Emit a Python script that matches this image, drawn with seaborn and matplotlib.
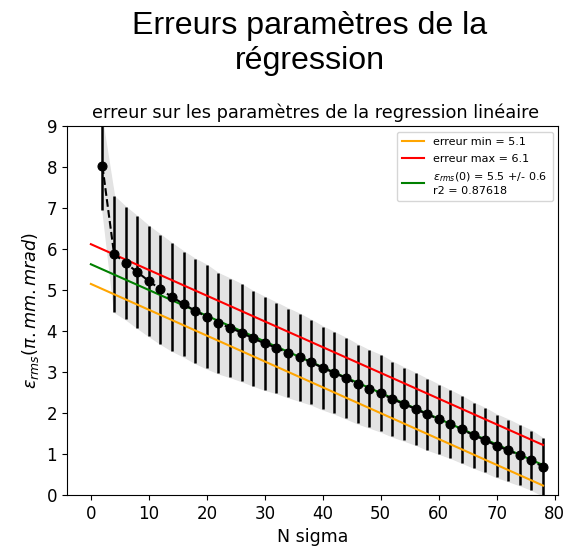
import matplotlib
matplotlib.use("Agg")
import matplotlib.pyplot as plt
import seaborn as sns
import numpy as np
import pandas as pd

n_sigma = [2, 4, 6, 8, 10, 12, 14, 16, 18, 20, 22, 24, 26, 28, 30, 32, 34, 36, 38,
           40, 42, 44, 46, 48, 50, 52, 54, 56, 58, 60, 62, 64, 66, 68, 70, 72, 74, 76, 78]
eps_rms = [8.02, 5.88, 5.66, 5.44, 5.22, 5.02, 4.83, 4.66, 4.49, 4.35, 4.19, 4.08, 3.96,
           3.82, 3.70, 3.59, 3.47, 3.36, 3.24, 3.10, 2.98, 2.85, 2.71, 2.59, 2.48, 2.34,
           2.22, 2.10, 1.97, 1.85, 1.73, 1.60, 1.46, 1.34, 1.20, 1.09, 0.97, 0.85, 0.68]
eps_err = [1.07, 1.41, 1.37, 1.36, 1.34, 1.33, 1.31, 1.28, 1.27, 1.26, 1.22, 1.20, 1.18,
           1.15, 1.13, 1.10, 1.08, 1.06, 1.03, 1.01, 0.99, 0.98, 0.96, 0.94, 0.93, 0.91,
           0.89, 0.87, 0.86, 0.84, 0.82, 0.81, 0.79, 0.78, 0.76, 0.75, 0.73, 0.72, 0.70]

reg_x = [0, 78]
reg_min = [5.15, 0.23]
reg_max = [6.12, 1.22]
reg_fit = [5.63, 0.73]

df = pd.DataFrame({"x": n_sigma, "y": eps_rms, "err": eps_err})
df["lo"] = df["y"] - df["err"]
df["hi"] = df["y"] + df["err"]

fig = plt.figure(figsize=(5.71, 5.46), dpi=100)
ax = fig.add_axes([0.117, 0.0934, 0.861, 0.6756])

ax.fill_between(df["x"], df["lo"], df["hi"], color="#e3e3e3", zorder=1)
ax.errorbar(df["x"], df["y"], yerr=df["err"], fmt="none", ecolor="black",
            elinewidth=1.8, capsize=0, zorder=2)

sns.lineplot(x=reg_x, y=reg_min, ax=ax, color="orange", linewidth=1.5,
             label="erreur min = 5.1", zorder=3)
sns.lineplot(x=reg_x, y=reg_max, ax=ax, color="red", linewidth=1.5,
             label="erreur max = 6.1", zorder=3)
sns.lineplot(x=reg_x, y=reg_fit, ax=ax, color="green", linewidth=1.5,
             label="$\\epsilon_{rms}(0)$ = 5.5 +/- 0.6\nr2 = 0.87618", zorder=3)

sns.lineplot(data=df, x="x", y="y", ax=ax, color="black", linestyle="--",
             linewidth=1.5, marker="o", markersize=6.5, markeredgecolor="black",
             zorder=4, legend=False)

ax.set_xlim(-4.15, 80.65)
ax.set_ylim(0, 9)
ax.set_xticks(range(0, 81, 10))
ax.set_yticks(range(0, 10))
ax.tick_params(labelsize=12)
ax.set_xlabel("N sigma", fontsize=12.5)
ax.set_ylabel("$\\epsilon_{rms}(\\pi.mm.mrad)$", fontsize=12.7)
ax.set_title("erreur sur les paramètres de la regression linéaire", fontsize=12.8, x=0.505)
ax.legend(loc="upper right", fontsize=8, borderpad=0.5, labelspacing=0.6)

fig.suptitle("Erreurs paramètres de la\nrégression", fontsize=23.1, x=0.543, y=0.98,
             family=["Liberation Sans", "DejaVu Sans"])

fig.savefig("out.png", dpi=100)
